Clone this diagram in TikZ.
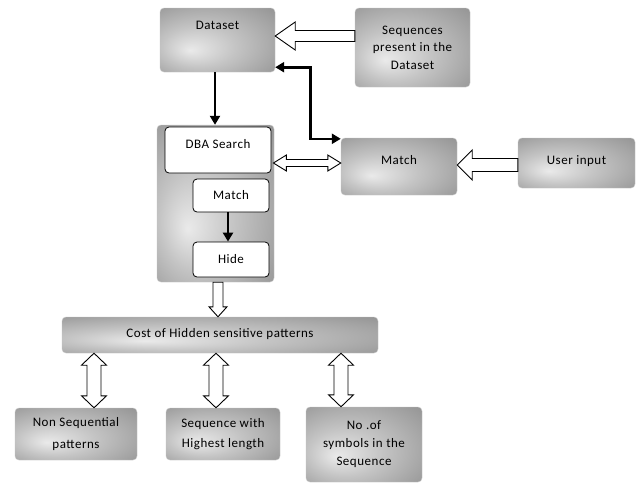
\documentclass[tikz,border=0pt]{standalone}
\usepackage{fontspec}
\setmainfont{Carlito}[LetterSpace=4]
\usetikzlibrary{arrows.meta,calc}
\definecolor{shA}{RGB}{234,234,234}
\definecolor{shB}{RGB}{196,196,196}
\definecolor{shC}{RGB}{150,150,150}
\definecolor{shD}{RGB}{105,105,105}
\pgfdeclareradialshading{boxshade}{\pgfpoint{-12bp}{-8bp}}{color(0bp)=(shA); color(16bp)=(shB); color(38bp)=(shC); color(50bp)=(shD)}
\newcommand\blockarrow[5]{%
  \draw[blk] let \p1=(#1), \p2=(#2), \n1={atan2(\y2-\y1,\x2-\x1)}, \n2={veclen(\x2-\x1,\y2-\y1)} in
    [shift={(\p1)},rotate=\n1] (0pt,#3) -- (\n2-#5,#3) -- (\n2-#5,#4) -- (\n2,0pt) -- (\n2-#5,-#4) -- (\n2-#5,-#3) -- (0pt,-#3) -- cycle;}
\newcommand\dblockarrow[5]{%
  \draw[blk] let \p1=(#1), \p2=(#2), \n1={atan2(\y2-\y1,\x2-\x1)}, \n2={veclen(\x2-\x1,\y2-\y1)} in
    [shift={(\p1)},rotate=\n1] (0pt,0pt) -- (#5,#4) -- (#5,#3) -- (\n2-#5,#3) -- (\n2-#5,#4) -- (\n2,0pt) -- (\n2-#5,-#4) -- (\n2-#5,-#3) -- (#5,-#3) -- (#5,-#4) -- cycle;}
\tikzset{
  every node/.style={font=\fontsize{13}{15}\selectfont, text=black},
  gbox/.style={shading=boxshade, draw=gray!45, line width=0.4pt, rounded corners=4pt, inner sep=0pt, align=center},
  wbox/.style={draw=black, fill=white, line width=0.8pt, rounded corners=4pt, inner sep=0pt, align=center},
  blk/.style={draw=black, fill=white, line width=0.9pt, line join=miter},
  tip/.style={},
  tarrow/.style={draw=black, line width=2.6pt, -{Triangle[length=9pt,width=10pt]}},
}
\begin{document}
\begin{tikzpicture}[x=1pt,y=-1pt]
\fill[white] (0,0) rectangle (640,483);
\useasboundingbox (0,0) rectangle (640,483);

% top boxes
\node[gbox, minimum width=115pt, minimum height=64pt,
  label={[anchor=north,yshift=-13pt,inner sep=0pt]north:Dataset}] (data) at (217.5,40) {};
\node[gbox, minimum width=115pt, minimum height=79pt,
  font=\fontsize{13}{17.5}\selectfont] (seq) at (412.5,47.5) {Sequences\\present in the\\Dataset};

% DBA container
\node[gbox, minimum width=117pt, minimum height=157pt] (dba) at (215.5,203.5) {};
\node[wbox, minimum width=106pt, minimum height=46pt,
  label={[anchor=north,yshift=-13pt,inner sep=0pt]north:DBA Search}] (dbas) at (218,150) {};
\node[wbox, minimum width=76pt, minimum height=33pt] (mtch) at (231,195.5) {Match};
\node[wbox, minimum width=76pt, minimum height=35pt] (hide) at (231,259.5) {Hide};

% right boxes
\node[gbox, minimum width=116pt, minimum height=57pt, text depth=14pt] (matchR) at (399,166.5) {Match};
\node[gbox, minimum width=117pt, minimum height=50pt, text depth=6pt] (user) at (576.5,163) {User input};

% cost
\node[gbox, minimum width=316pt, minimum height=36pt, text depth=5pt] (cost) at (220,335) {Cost of Hidden sensitive patterns};

% bottom boxes
\node[gbox, minimum width=122pt, minimum height=52pt,
  font=\fontsize{13}{22}\selectfont] (ns) at (76,434) {Non Sequential\\patterns};
\node[gbox, minimum width=114pt, minimum height=52pt,
  font=\fontsize{13}{20}\selectfont] (seqw) at (223,434) {Sequence with\\Highest length};
\node[gbox, minimum width=116pt, minimum height=75pt,
  font=\fontsize{13}{18}\selectfont] (nof) at (364,444.5) {No .of\\symbols in the\\Sequence};

% block arrows
\blockarrow{$(seq.west)+(0,-11.5)$}{$(data.east)+(0,-4)$}{5.5pt}{14pt}{20pt}
\blockarrow{$(user.west)+(0,2)$}{$(matchR.east)+(0,-1.5)$}{6.5pt}{15pt}{15pt}
\dblockarrow{$(dbas.east)+(2,13)$}{$(matchR.west)+(0,-3.5)$}{3.5pt}{8pt}{13pt}
\blockarrow{$(dba.south)+(2.5,0)$}{$(cost.north)+(-2,0)$}{5pt}{9pt}{10pt}
\dblockarrow{$(cost.south -| ns.north)+(18,0)$}{$(ns.north)+(18,0)$}{7pt}{12.5pt}{12pt}
\dblockarrow{$(cost.south -| seqw.north)+(-7,0)$}{$(seqw.north)+(-7,0)$}{7pt}{12.5pt}{12pt}
\dblockarrow{$(cost.south -| nof.north)+(-23,0)$}{$(nof.north)+(-23,0)$}{7pt}{12.5pt}{12pt}

% thick arrows
\draw[tarrow] ($(data.south)+(-2.5,0)$) -- ($(dba.north)+(-0.5,0)$);
\draw[tarrow] ($(mtch.south)+(-3,0)$) -- ($(hide.north)+(-3,0)$);
\draw[draw=black, line width=2.6pt, {Triangle[length=9pt,width=10pt]}-{Triangle[length=9pt,width=10pt]}]
  ($(data.south east)+(0,-5)$) -- ++(35,0) |- ($(matchR.north west)+(0,1)$);
\end{tikzpicture}
\end{document}
